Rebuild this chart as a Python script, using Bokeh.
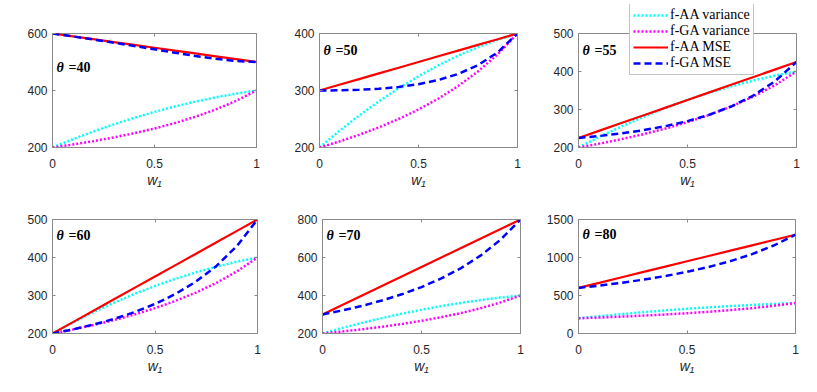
from bokeh.plotting import figure
from bokeh.models import Range1d, FixedTicker, LinearAxis, Label, Legend, LegendItem, Span
from bokeh.layouts import column, row
from bokeh.embed import file_html
from bokeh.resources import INLINE

# ---------------- data ----------------
w1 = [0.0, 0.1, 0.2, 0.3, 0.4, 0.5, 0.6, 0.7, 0.8, 0.9, 1.0]
thetas = [40, 50, 55, 60, 70, 80]

aa_var = [200, 229, 256, 281, 304, 325, 344, 361, 376, 389, 400]
ga_var = [200, 210.53, 222.22, 235.29, 250, 266.67, 285.71, 307.69, 333.33, 363.64, 400]

aa_mse_40 = [600, 590, 580, 570, 560, 550, 540, 530, 520, 510, 500]
ga_mse_40 = [600, 589.77, 579.01, 567.81, 556.25, 544.44, 532.65, 521.30, 511.11, 503.31, 500]
aa_mse_50 = [300, 310, 320, 330, 340, 350, 360, 370, 380, 390, 400]
ga_mse_50 = [300, 300.29, 301.23, 303.11, 306.25, 311.11, 318.36, 328.99, 344.44, 366.95, 400]
aa_mse_55 = [225, 245, 265, 285, 305, 325, 345, 365, 385, 405, 425]
ga_mse_55 = [225, 230.54, 237.34, 245.76, 256.25, 269.45, 286.22, 307.84, 336.11, 373.76, 425]
aa_mse_60 = [200, 230, 260, 290, 320, 350, 380, 410, 440, 470, 500]
ga_mse_60 = [200, 210.81, 223.45, 238.41, 256.25, 277.78, 304.08, 336.69, 377.77, 430.58, 500]
aa_mse_70 = [300, 350, 400, 450, 500, 550, 600, 650, 700, 750, 800]
ga_mse_70 = [300, 321.33, 345.67, 373.71, 406.25, 444.44, 489.80, 544.39, 611.12, 694.22, 800]
aa_mse_80 = [600, 670, 740, 810, 880, 950, 1020, 1090, 1160, 1230, 1300]
ga_mse_80 = [600, 631.85, 667.89, 709.01, 756.25, 811.10, 875.52, 952.09, 1044.46, 1157.87, 1300]

y_limits = [(200, 600), (200, 400), (200, 500), (200, 500), (200, 800), (0, 1500)]
y_ticks = [[200, 400, 600], [200, 300, 400], [200, 300, 400, 500],
           [200, 300, 400, 500], [200, 400, 600, 800], [0, 500, 1000, 1500]]
x_ticks = [0, 0.5, 1]
x_tick_labels = ["0", "0.5", "1"]
x_label = "w\u2081"
legend_labels = ["f-AA variance", "f-GA variance", "f-AA MSE", "f-GA MSE"]

aa_mse = [aa_mse_40, aa_mse_50, aa_mse_55, aa_mse_60, aa_mse_70, aa_mse_80]
ga_mse = [ga_mse_40, ga_mse_50, ga_mse_55, ga_mse_60, ga_mse_70, ga_mse_80]

# ---------------- layout ----------------
# (border_left, frame_width, border_right)
row1_w = [(52, 204, 29), (34, 198, 26), (35, 218, 12)]
row2_w = [(52, 205, 28), (37, 198, 18), (40, 217, 13)]
row1_h = (33, 114, 53)
row2_h = (19, 114, 51)
theta_drop = [34, 17, 17, 16, 16, 15]  # baseline distance below frame top
LEGEND_PANEL = 2
LEGEND_TOP = 4  # px from figure top where the (extended) frame of the legend panel starts

AXIS_GREY = "#8a8a8a"
TEXT_DARK = "#262626"
SANS = "Liberation Sans"
SERIF = "Liberation Serif"


def tick_axis(ticks, **kw):
    return LinearAxis(ticker=FixedTicker(ticks=ticks),
                      major_label_overrides={t: "" for t in ticks},
                      major_label_text_font_size="1px", major_label_standoff=0,
                      major_tick_line_color=AXIS_GREY,
                      major_tick_in=3, major_tick_out=0, minor_tick_line_color=None, **kw)


def make_panel(i, wspec, hspec):
    bl, fw, br = wspec
    bt, fh, bb = hspec
    ylo, yhi = y_limits[i]
    ext = (i == LEGEND_PANEL)
    if ext:
        # frame extended upward so the legend can overlap the area above the box
        extra_px = bt - LEGEND_TOP
        y_top = yhi + extra_px * (yhi - ylo) / fh
        frame_top_border = LEGEND_TOP
    else:
        y_top = yhi
        frame_top_border = bt
    p = figure(width=bl + fw + br, height=bt + fh + bb,
               x_range=Range1d(0, 1), y_range=Range1d(ylo, y_top),
               output_backend="svg", toolbar_location=None,
               min_border_left=bl, min_border_right=br,
               min_border_top=frame_top_border, min_border_bottom=bb)
    p.frame_align = False
    p.grid.visible = False
    p.background_fill_color = "white"
    p.border_fill_color = "white"
    if ext:
        p.outline_line_color = None
    else:
        p.outline_line_color = AXIS_GREY
        p.outline_line_width = 1

    for ax in (p.xaxis[0], p.yaxis[0]):
        ax.axis_line_color = AXIS_GREY
        ax.major_tick_line_color = AXIS_GREY
        ax.major_tick_in = 3
        ax.major_tick_out = 0
        ax.minor_tick_line_color = None
        ax.major_label_text_font = SANS
        ax.major_label_text_font_size = "12px"
        ax.major_label_text_color = TEXT_DARK
    xa = p.xaxis[0]
    xa.ticker = FixedTicker(ticks=x_ticks)
    xa.major_label_overrides = {t: s for t, s in zip(x_ticks, x_tick_labels)}
    xa.major_label_standoff = 11
    xa.axis_label = x_label
    xa.axis_label_text_font = SANS
    xa.axis_label_text_font_style = "italic"
    xa.axis_label_text_font_size = "14px"
    xa.axis_label_text_color = TEXT_DARK
    xa.axis_label_standoff = 1
    ya = p.yaxis[0]
    ya.ticker = FixedTicker(ticks=y_ticks[i])
    ya.major_label_standoff = 5

    if ext:
        ya.bounds = (ylo, yhi)
        right = tick_axis(y_ticks[i], axis_line_color=AXIS_GREY, bounds=(ylo, yhi))
        p.add_layout(right, "right")
        p.add_layout(Span(location=yhi, dimension="width",
                          line_color=AXIS_GREY, line_width=1))
    else:
        p.add_layout(tick_axis(x_ticks, axis_line_color=None), "above")
        p.add_layout(tick_axis(y_ticks[i], axis_line_color=None), "right")

    r1 = p.line(w1, aa_var, line_color="#00ffff", line_width=2.5, line_dash="2 2")
    r2 = p.line(w1, ga_var, line_color="#ff00ff", line_width=2.5, line_dash="2 2")
    r3 = p.line(w1, aa_mse[i], line_color="#ff0000", line_width=2.2)
    r4 = p.line(w1, ga_mse[i], line_color="#0000ff", line_width=2.5, line_dash="7 4")

    # theta label
    ty = fh - theta_drop[i]
    p.add_layout(Label(x=4, y=ty, x_units="screen", y_units="screen", text="θ",
                       text_font=SERIF, text_font_style="bold italic",
                       text_font_size="14px", text_color="black",
                       text_baseline="alphabetic"))
    p.add_layout(Label(x=16, y=ty, x_units="screen", y_units="screen",
                       text="=%d" % thetas[i],
                       text_font=SERIF, text_font_style="bold",
                       text_font_size="14px", text_color="black",
                       text_baseline="alphabetic"))

    if ext:
        legend = Legend(items=[LegendItem(label=legend_labels[0], renderers=[r1]),
                               LegendItem(label=legend_labels[1], renderers=[r2]),
                               LegendItem(label=legend_labels[2], renderers=[r3]),
                               LegendItem(label=legend_labels[3], renderers=[r4])],
                        location=(51, 72), padding=3, spacing=0, margin=0,
                        label_height=16, glyph_height=16, glyph_width=35,
                        label_standoff=2, label_text_font=SERIF,
                        label_text_font_size="14px", label_text_color="black",
                        border_line_color=AXIS_GREY, border_line_width=1,
                        background_fill_color="white", background_fill_alpha=1)
        p.add_layout(legend)
    return p


panels_r1 = [make_panel(i, row1_w[i], row1_h) for i in range(3)]
panels_r2 = [make_panel(i + 3, row2_w[i], row2_h) for i in range(3)]

layout = column(row(*panels_r1), row(*panels_r2))

open("out.html", "w").write(file_html(layout, INLINE))
